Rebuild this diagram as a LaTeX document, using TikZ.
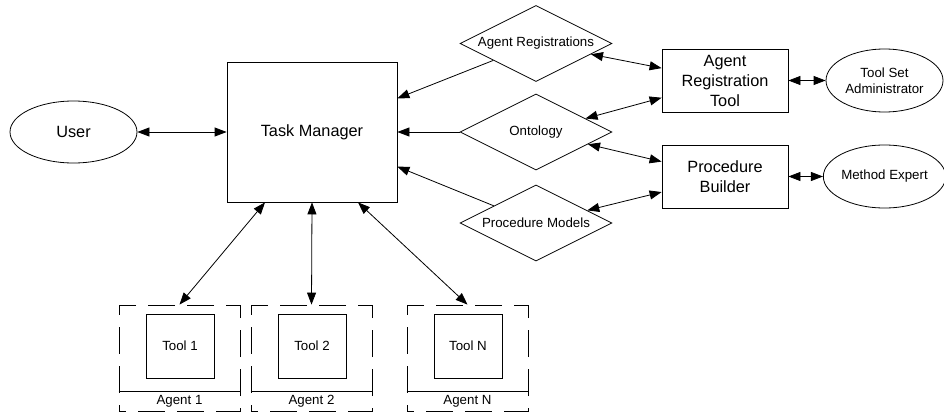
\documentclass[tikz,border=0pt]{standalone}
\usepackage{fontspec}
\setmainfont{Liberation Sans}
\usetikzlibrary{shapes.geometric,arrows.meta}

\tikzset{
  big/.style={font=\fontsize{16.3}{20}\selectfont},
  small/.style={font=\fontsize{13.3}{16}\selectfont},
  box/.style={draw, rectangle, inner sep=0pt, align=center},
  oval/.style={draw, ellipse, inner sep=0pt, align=center},
  store/.style={draw, diamond, aspect=2, inner sep=0pt, minimum width=152pt, minimum height=76pt, small},
  agentbox/.style={draw, dash pattern=on 27pt off 12pt, dash phase=20pt, minimum width=121pt, minimum height=106pt, inner sep=0pt},
  link/.style={{Triangle[length=12pt,width=9pt]}-{Triangle[length=12pt,width=9pt]}},
  feed/.style={-{Triangle[length=12pt,width=9pt]}},
}

\begin{document}
\begin{tikzpicture}[x=1pt, y=-1pt, line width=0.8pt]
                \useasboundingbox (0,0) rectangle (944,412);
                \node[box, big, minimum width=170pt, minimum height=140pt] (taskmgr) at (312,132) {Task Manager};
                \node[oval, big, minimum width=127pt, minimum height=62pt] (user) at (73.5,132) {User};
                \node[store] (agentreg) at (536,43.5) {Agent Registrations};
                \node[store] (ontology) at (536,132) {Ontology};
                \node[store] (procmodels) at (536,223) {Procedure Models};
                \node[box, big, minimum width=126pt, minimum height=63pt] (artool) at (725,80.5) {Agent\\Registration\\Tool};
                \node[box, big, minimum width=126pt, minimum height=63pt] (procbuilder) at (725,176.5) {Procedure\\Builder};
                \node[oval, small, minimum width=117pt, minimum height=63pt] (tsadmin) at (884.5,80.5) {Tool Set\\Administrator};
                \node[oval, small, minimum width=117pt, minimum height=63pt] (methexp) at (884.5,176.5) {Method Expert};

                \node[agentbox] (agent1) at (179.5,358) {};
                \node[box, small, minimum width=68pt, minimum height=64pt] (tool1) at (180,346) {Tool 1};
                \node[small] (agentlab1) at (179.5,401) {Agent 1};
                \node[agentbox] (agent2) at (311.5,358) {};
                \node[box, small, minimum width=68pt, minimum height=64pt] (tool2) at (312,346) {Tool 2};
                \node[small] (agentlab2) at (311.5,401) {Agent 2};
                \node[agentbox] (agentN) at (467.5,358) {};
                \node[box, small, minimum width=68pt, minimum height=64pt] (toolN) at (468,346) {Tool N};
                \node[small] (agentlabN) at (467.5,401) {Agent N};
                \draw (agent1.west |- 0,391) -- (agent1.east |- 0,391);
                \draw (agent2.west |- 0,391) -- (agent2.east |- 0,391);
                \draw (agentN.west |- 0,391) -- (agentN.east |- 0,391);

                \draw[link] (user) to (taskmgr);
                \draw[feed] (agentreg) to (taskmgr); \draw[feed] (ontology) to (taskmgr); \draw[feed] (procmodels) to (taskmgr);
                \draw[link] (agentreg) to (artool); \draw[link] (ontology) to (artool);
                \draw[link] (ontology) to (procbuilder); \draw[link] (procmodels) to (procbuilder);
                \draw[link] (artool) to (tsadmin); \draw[link] (procbuilder) to (methexp);
                \draw[link] ([xshift=-47pt]taskmgr.south) to (agent1.north);
                \draw[link] (taskmgr.south) to (agent2.north);
                \draw[link] ([xshift=46pt]taskmgr.south) to (agentN.north);
            \end{tikzpicture}
\end{document}
